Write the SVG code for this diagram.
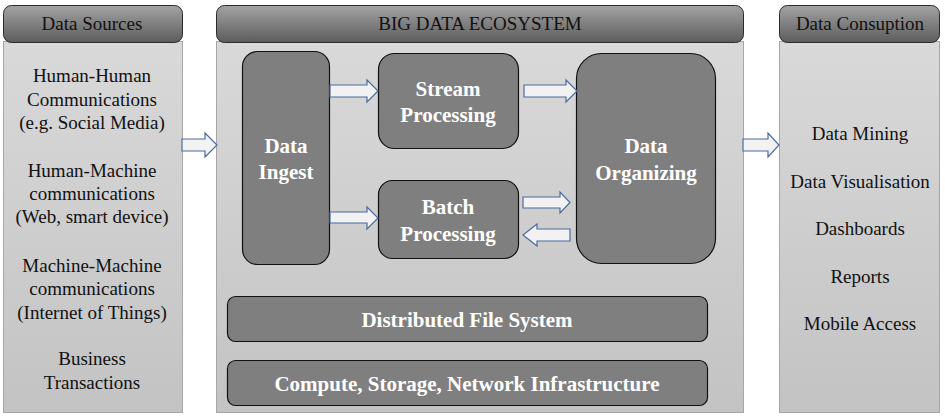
<svg xmlns="http://www.w3.org/2000/svg" width="945" height="418" viewBox="0 0 945 418">
<defs>
<linearGradient id="hdr" x1="0" y1="0" x2="0" y2="1">
<stop offset="0" stop-color="#a3a3a3"/><stop offset="1" stop-color="#5c5c5c"/>
</linearGradient>
<linearGradient id="body" x1="0" y1="0" x2="0" y2="1">
<stop offset="0" stop-color="#d9d9d9"/><stop offset="1" stop-color="#c3c3c3"/>
</linearGradient>
<style>
.hdr{fill:url(#hdr);stroke:#2b2b2b;stroke-width:1}
.body{fill:url(#body);stroke:#a6a6a6;stroke-width:1}
.box{fill:#7f7f7f;stroke:#111;stroke-width:1.2}
.arr{fill:#f2f2f2;stroke:#4a6aa0;stroke-width:1.2;stroke-linejoin:miter}
.t{font-family:'Liberation Serif','Times New Roman','DejaVu Serif',serif;font-size:19px;fill:#111;text-anchor:middle}
.b{font-family:'Liberation Serif','Times New Roman','DejaVu Serif',serif;font-size:21px;font-weight:bold;fill:#fff;text-anchor:middle}
</style>
</defs>
<g id="sources">
<rect class="body" x="3.5" y="41.5" width="179" height="371"/>
<rect class="hdr" x="3.5" y="5.5" width="179" height="37" rx="8"/>
<text class="t" x="92" y="30">Data Sources</text>
<text class="t" x="92" y="82">Human-Human</text>
<text class="t" x="92" y="106">Communications</text>
<text class="t" x="92" y="129">(e.g. Social Media)</text>
<text class="t" x="92" y="177">Human-Machine</text>
<text class="t" x="92" y="200">communications</text>
<text class="t" x="92" y="223">(Web, smart device)</text>
<text class="t" x="92" y="272">Machine-Machine</text>
<text class="t" x="92" y="295">communications</text>
<text class="t" x="92" y="319">(Internet of Things)</text>
<text class="t" x="92" y="365">Business</text>
<text class="t" x="92" y="389">Transactions</text>
</g>
<g id="ecosystem">
<rect class="body" x="216.5" y="41.5" width="527" height="371"/>
<rect class="hdr" x="216.5" y="5.5" width="527" height="37" rx="8"/>
<text class="t" x="480" y="30">BIG DATA ECOSYSTEM</text>
</g>
<g id="consumption">
<rect class="body" x="779.5" y="41.5" width="160" height="371"/>
<rect class="hdr" x="779.5" y="5.5" width="160" height="37" rx="8"/>
<text class="t" x="860" y="30">Data Consuption</text>
<text class="t" x="860" y="140">Data Mining</text>
<text class="t" x="860" y="188">Data Visualisation</text>
<text class="t" x="860" y="235">Dashboards</text>
<text class="t" x="860" y="283">Reports</text>
<text class="t" x="860" y="330">Mobile Access</text>
</g>
<g id="ingest">
<rect class="box" x="242.5" y="51.5" width="87" height="213" rx="15"/>
<text class="b" x="286" y="153">Data</text>
<text class="b" x="286" y="179">Ingest</text>
</g>
<g id="stream">
<rect class="box" x="378.5" y="53.5" width="140" height="95" rx="16"/>
<text class="b" x="448" y="96">Stream</text>
<text class="b" x="448" y="122">Processing</text>
</g>
<g id="batch">
<rect class="box" x="378.5" y="180.5" width="140" height="78" rx="14"/>
<text class="b" x="448" y="214">Batch</text>
<text class="b" x="448" y="241">Processing</text>
</g>
<g id="organizing">
<rect class="box" x="576.5" y="53.5" width="139" height="210" rx="25"/>
<text class="b" x="646" y="153">Data</text>
<text class="b" x="646" y="180">Organizing</text>
</g>
<g id="dfs">
<rect class="box" x="227.5" y="296.5" width="480" height="45" rx="8"/>
<text class="b" x="467" y="327">Distributed File System</text>
</g>
<g id="infra">
<rect class="box" x="227.5" y="360.5" width="480" height="45" rx="8"/>
<text class="b" x="467" y="391">Compute, Storage, Network Infrastructure</text>
</g>
<g id="connectors">
<polygon class="arr" points="182,139 205,139 205,133 217,145 205,157 205,151 182,151"/>
<polygon class="arr" points="330,85 367,85 367,80 378,91 367,102 367,97 330,97"/>
<polygon class="arr" points="524,85 566,85 566,80 577,91 566,102 566,97 524,97"/>
<polygon class="arr" points="330,212 367,212 367,207 378,218 367,229 367,223 330,223"/>
<polygon class="arr" points="523,197 560,197 560,192 570,202.5 560,213 560,208 523,208"/>
<polygon class="arr" points="570,229 537,229 537,224 523,235 537,246 537,241 570,241"/>
<polygon class="arr" points="743,139 768,139 768,133 779,145 768,157 768,151 743,151"/>
</g>
</svg>
